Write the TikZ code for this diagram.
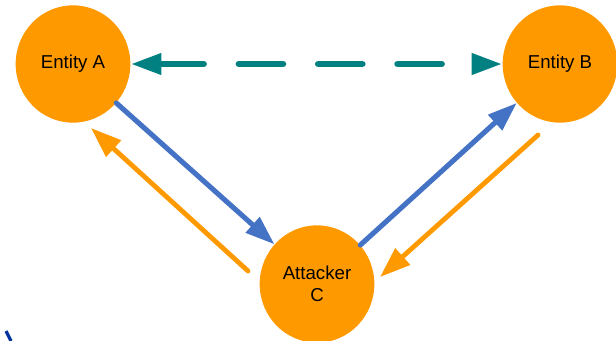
\documentclass[tikz,border=0pt]{standalone}
\usepackage{fontspec}
\setmainfont{Liberation Sans}
\usetikzlibrary{arrows.meta,shapes.geometric}
\definecolor{nodeorange}{RGB}{255,153,0}
\definecolor{linkteal}{RGB}{0,128,128}
\definecolor{linkblue}{RGB}{68,114,196}
\tikzset{
    party/.style={ellipse, fill=nodeorange, inner sep=0pt, minimum width=86pt, minimum height=88pt, align=center, font=\fontsize{14}{16.5}\selectfont},
    sent/.style={linkblue, line width=3.8pt, line cap=round, -{Triangle[length=22pt, width=15pt]}},
    relayed/.style={nodeorange, line width=3.6pt, line cap=round, -{Triangle[length=23pt, width=16pt]}},
    trusted/.style={linkteal, line width=5pt, line cap=round, dash pattern=on 33pt off 26.5pt, {Triangle[length=23pt, width=15pt]}-{Triangle[length=23pt, width=15pt]}}
}
\begin{document}
\begin{tikzpicture}[x=0.75pt, y=-0.75pt]
    \useasboundingbox (0,0) rectangle (616,340);
    \node[party] (a) at (73,64) {Entity A};
    \node[party] (b) at (560,64) {Entity B};
    \node[party] (c) at (317,284) {Attacker\\C};
    \coordinate (ca) at (248,271);
    \coordinate (ac) at (91,128);
    \coordinate (bc) at (538,135);
    \coordinate (cb) at (380,277);
    \draw[trusted] (a.east) -- (b.west);
    \draw[sent] (a.-42) -- (c.137);
    \draw[sent] (c.42) -- (b.222);
    \draw[relayed] (ca) -- (ac);
    \draw[relayed] (bc) -- (cb);
    \draw[color={rgb,255:red,0;green,51;blue,160}, line width=2.5pt] (6,331) -- (11,341);
\end{tikzpicture}
\end{document}
